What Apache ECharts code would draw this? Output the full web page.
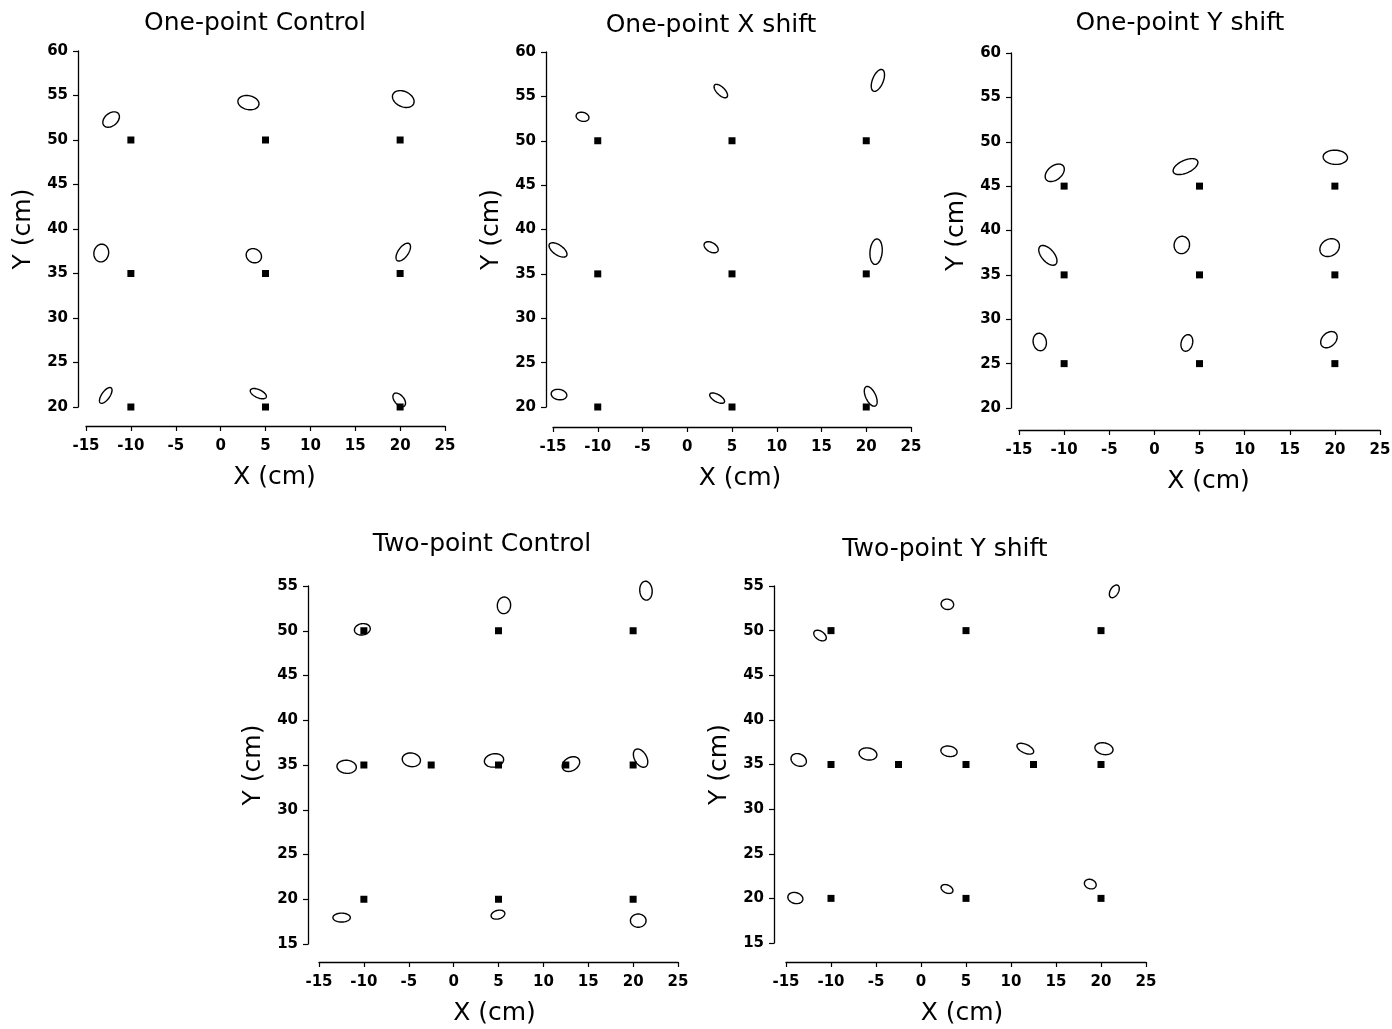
<!DOCTYPE html>
<html>
<head>
<meta charset="utf-8">
<script src="https://cdn.jsdelivr.net/npm/echarts@6/dist/echarts.min.js"></script>
<style>
  html, body {
    margin: 0;
    padding: 0;
    background: #fff;
  }
  #chart {
    width: 1392px;
    height: 1029px;
  }
</style>
</head>
<body>
<div id="chart"></div>
<script>
// panel titles and axis ranges
const panelTitles = ['One-point Control', 'One-point X shift', 'One-point Y shift', 'Two-point Control', 'Two-point Y shift']
const xRange = [-15, 25]
const yRanges = [[20, 60], [20, 60], [20, 60], [15, 55], [15, 55]]
const tickStep = 5

// target positions (cm)
const targetsOnePoint = [[-10, 50], [5, 50], [20, 50], [-10, 35], [5, 35], [20, 35], [-10, 20], [5, 20], [20, 20]]
const targetsOnePointY = [[-10, 45], [5, 45], [20, 45], [-10, 35], [5, 35], [20, 35], [-10, 25], [5, 25], [20, 25]]
const targetsTwoPoint = [[-10, 50], [5, 50], [20, 50], [-10, 35], [-2.5, 35], [5, 35], [12.5, 35], [20, 35], [-10, 20], [5, 20], [20, 20]]

// response ellipses: [centre x, centre y, semi-major, semi-minor, angle deg]
const ellOnePointControl = [
  [-12.2, 52.3, 1.05, 0.71, 40],
  [3.1, 54.2, 1.19, 0.78, -12],
  [20.35, 54.6, 1.27, 0.86, -25],
  [-13.3, 37.3, 1.0, 0.82, 80],
  [3.7, 37.0, 0.88, 0.77, -30],
  [20.35, 37.4, 1.16, 0.56, 55],
  [-12.8, 21.3, 1.04, 0.45, 55],
  [4.2, 21.5, 0.97, 0.45, -25],
  [19.9, 20.8, 0.9, 0.52, -50],
]
const ellOnePointX = [
  [-11.7, 52.7, 0.73, 0.5, -15],
  [3.75, 55.6, 0.97, 0.45, -45],
  [21.3, 56.8, 1.31, 0.6, 68],
  [-14.44, 37.7, 1.16, 0.56, -35],
  [2.67, 38.0, 0.86, 0.52, -30],
  [21.1, 37.5, 1.44, 0.68, 85],
  [-14.33, 21.4, 0.88, 0.58, -10],
  [3.34, 21.0, 0.93, 0.41, -30],
  [20.5, 21.2, 1.2, 0.56, -65],
]
const ellOnePointY = [
  [-11.04, 46.5, 1.22, 0.78, 40],
  [3.45, 47.2, 1.48, 0.71, 25],
  [20.05, 48.25, 1.35, 0.8, -3],
  [-11.8, 37.2, 1.33, 0.7, -50],
  [3.04, 38.37, 0.98, 0.85, 80],
  [19.42, 38.07, 1.15, 0.93, 35],
  [-12.7, 27.44, 0.99, 0.73, 100],
  [3.6, 27.33, 0.95, 0.63, 75],
  [19.34, 27.7, 1.05, 0.75, 45],
]
const ellTwoPointControl = [
  [-10.17, 50.16, 0.89, 0.63, 10],
  [5.61, 52.84, 0.93, 0.74, 85],
  [21.43, 54.48, 1.06, 0.69, 95],
  [-11.92, 34.8, 1.08, 0.73, -5],
  [-4.71, 35.58, 1.02, 0.76, -10],
  [4.5, 35.51, 1.08, 0.74, 10],
  [13.07, 35.1, 1.04, 0.74, 30],
  [20.83, 35.77, 1.11, 0.67, -60],
  [-12.48, 17.95, 0.97, 0.5, 0],
  [4.94, 18.28, 0.78, 0.48, 15],
  [20.57, 17.61, 0.87, 0.74, 0],
]
const ellTwoPointY = [
  [-11.22, 49.45, 0.78, 0.48, -35],
  [2.93, 52.95, 0.7, 0.58, -10],
  [21.48, 54.4, 0.78, 0.45, 60],
  [-13.59, 35.51, 0.89, 0.67, -25],
  [-5.89, 36.18, 1.0, 0.67, -10],
  [3.11, 36.48, 0.91, 0.58, -10],
  [11.59, 36.77, 1.0, 0.48, -25],
  [20.33, 36.77, 1.02, 0.65, -12],
  [-13.96, 20.04, 0.85, 0.61, -15],
  [2.89, 21.05, 0.7, 0.44, -25],
  [18.81, 21.6, 0.67, 0.52, -20],
]

const panelTargets = [targetsOnePoint, targetsOnePoint, targetsOnePointY, targetsTwoPoint, targetsTwoPoint]
const panelEllipses = [ellOnePointControl, ellOnePointX, ellOnePointY, ellTwoPointControl, ellTwoPointY]

// layout of each panel in px (plot box, detached axes, title anchor, x-name nudge)
const layouts = [
  {left: 86, top: 51, width: 359, height: 356, xOff: 19, yOff: 8, tx: 255, ty: 23, nx: 9},
  {left: 553, top: 52, width: 358, height: 355, xOff: 20, yOff: 7, tx: 711, ty: 25, nx: 8},
  {left: 1019, top: 53, width: 361, height: 355, xOff: 22, yOff: 8, tx: 1180, ty: 23, nx: 9},
  {left: 319, top: 586, width: 359, height: 358, xOff: 18, yOff: 11, tx: 482, ty: 544, nx: -4},
  {left: 786, top: 586, width: 360, height: 357, xOff: 19, yOff: 12, tx: 945, ty: 549, nx: -4},
]

const FONT = 'DejaVu Sans'

const renderEllipse = (params, api) => {
  const cx = api.value(0)
  const cy = api.value(1)
  const a = api.value(2)
  const b = api.value(3)
  const ang = api.value(4) * Math.PI / 180
  const pts = []
  for (let k = 0; k < 60; k++) {
    const t = k / 60 * Math.PI * 2
    const dx = a * Math.cos(t)
    const dy = b * Math.sin(t)
    pts.push(api.coord([
      cx + dx * Math.cos(ang) - dy * Math.sin(ang),
      cy + dx * Math.sin(ang) + dy * Math.cos(ang)
    ]))
  }
  return {
    type: 'polygon',
    shape: {points: pts},
    style: {fill: 'none', stroke: '#000', lineWidth: 1.4}
  }
}

const axisCommon = {
  type: 'value',
  interval: tickStep,
  axisLine: {show: true, onZero: false, lineStyle: {color: '#000', width: 1.3}},
  axisTick: {show: true, length: 5, lineStyle: {color: '#000', width: 1.2}},
  splitLine: {show: false},
  nameLocation: 'middle',
}

const option = {
  animation: false,
  backgroundColor: '#fff',
  title: [],
  grid: [],
  xAxis: [],
  yAxis: [],
  series: [],
}

layouts.forEach((l, i) => {
  option.title.push({
    text: panelTitles[i],
    left: l.tx,
    top: l.ty,
    textAlign: 'center',
    textVerticalAlign: 'middle',
    padding: 0,
    textStyle: {fontFamily: FONT, fontSize: 25, fontWeight: 'normal', color: '#000'}
  })
  option.grid.push({
    left: l.left,
    top: l.top,
    width: l.width,
    height: l.height,
    containLabel: false,
    outerBoundsMode: 'none'
  })
  option.xAxis.push({
    ...axisCommon,
    gridIndex: i,
    min: xRange[0],
    max: xRange[1],
    offset: l.xOff,
    name: 'X (cm)',
    nameGap: 39,
    nameTextStyle: {
      fontFamily: FONT, fontSize: 25, color: '#000',
      padding: l.nx > 0 ? [0, 0, 0, 2 * l.nx] : [0, -2 * l.nx, 0, 0]
    },
    axisLabel: {margin: 13, fontFamily: FONT, fontSize: 15, fontWeight: 'bold', color: '#000'},
  })
  option.yAxis.push({
    ...axisCommon,
    gridIndex: i,
    min: yRanges[i][0],
    max: yRanges[i][1],
    offset: l.yOff,
    name: 'Y (cm)',
    nameGap: 42,
    nameTextStyle: {fontFamily: FONT, fontSize: 25, color: '#000'},
    axisLabel: {margin: 10, fontFamily: FONT, fontSize: 15, fontWeight: 'bold', color: '#000'},
  })
  option.series.push({
    type: 'scatter',
    xAxisIndex: i,
    yAxisIndex: i,
    symbol: 'rect',
    symbolSize: 7,
    itemStyle: {color: '#000', opacity: 1},
    silent: true,
    data: panelTargets[i]
  })
  option.series.push({
    type: 'custom',
    xAxisIndex: i,
    yAxisIndex: i,
    renderItem: renderEllipse,
    encode: {x: 0, y: 1},
    clip: false,
    silent: true,
    data: panelEllipses[i]
  })
})

const chart = echarts.init(document.getElementById('chart'))
chart.setOption(option)
</script>
</body>
</html>
